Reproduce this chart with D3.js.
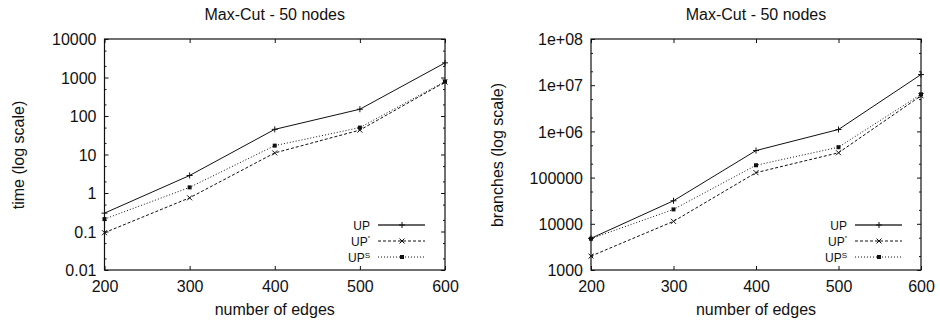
<!DOCTYPE html>
<html><head><meta charset="utf-8">
<script src="https://cdn.jsdelivr.net/npm/d3@7"></script>
<style>body{margin:0;background:#fff}svg{display:block}text{font-family:"Liberation Sans",Arial,sans-serif;fill:#111}</style>
</head><body>
<script>
const edges = [200, 300, 400, 500, 600];
const seriesNames = ["UP", "UP*", "UPS"];
const timeUP  = [0.30, 2.85, 45, 150, 2400];
const timeUPstar = [0.093, 0.75, 11, 43, 760];
const timeUPs = [0.21, 1.4, 17, 50, 790];
const brUP  = [4850, 31500, 385000, 1.1e6, 1.7e7];
const brUPstar = [2000, 11300, 128000, 345000, 5.9e6];
const brUPs = [4750, 20500, 185000, 455000, 6.35e6];
const timeTicks = [0.01, 0.1, 1, 10, 100, 1000, 10000];
const timeTickLabels = ["0.01", "0.1", "1", "10", "100", "1000", "10000"];
const brTicks = [1e3, 1e4, 1e5, 1e6, 1e7, 1e8];
const brTickLabels = ["1000", "10000", "100000", "1e+06", "1e+07", "1e+08"];
const xTicks = [200, 300, 400, 500, 600];

const W = 940, H = 327;
const svg = d3.select("body").append("svg").attr("width", W).attr("height", H);

const styles = [
  {dash: null, marker: "plus"},
  {dash: "3,2", marker: "cross"},
  {dash: "1,2", marker: "square"}
];

function marker(g, type, x, y) {
  if (type === "plus") {
    g.append("path").attr("d", `M${x-3},${y}H${x+3}M${x},${y-3}V${y+3}`).attr("stroke", "#111").attr("stroke-width", 1);
  } else if (type === "cross") {
    g.append("path").attr("d", `M${x-2.5},${y-2.5}L${x+2.5},${y+2.5}M${x-2.5},${y+2.5}L${x+2.5},${y-2.5}`).attr("stroke", "#111").attr("stroke-width", 1);
  } else {
    g.append("rect").attr("x", x-2).attr("y", y-2).attr("width", 4).attr("height", 4).attr("fill", "#111");
  }
}

function panel(opt) {
  const g = svg.append("g");
  const x = d3.scaleLinear().domain([200, 600]).range([opt.x0, opt.x1]);
  const y = d3.scaleLog().domain(opt.ydom).range([270, 39]);

  const minors = [];
  for (let e = Math.log10(opt.ydom[0]); e < Math.log10(opt.ydom[1]); e++) {
    [2, 5].forEach(m => minors.push(m * Math.pow(10, e)));
  }
  const yl = d3.axisLeft(y).tickValues(opt.ticks).tickFormat((d, i) => opt.labels[i]).tickSize(-4).tickPadding(8);
  const ga = g.append("g").attr("transform", `translate(${opt.x0},0)`).call(yl);
  ga.select(".domain").remove();
  ga.selectAll("text").attr("font-size", 16).attr("x", -8).attr("dy", "0.35em");
  ga.selectAll("line").attr("stroke", "#111");
  const gr = g.append("g").attr("transform", `translate(${opt.x1},0)`).call(d3.axisRight(y).tickValues(opt.ticks).tickSize(-4).tickFormat(""));
  gr.select(".domain").remove(); gr.selectAll("line").attr("stroke", "#111");
  const gm = g.append("g").attr("transform", `translate(${opt.x0},0)`).call(d3.axisLeft(y).tickValues(minors).tickSize(-2).tickFormat(""));
  gm.select(".domain").remove(); gm.selectAll("line").attr("stroke", "#111");
  const gm2 = g.append("g").attr("transform", `translate(${opt.x1},0)`).call(d3.axisRight(y).tickValues(minors).tickSize(-2).tickFormat(""));
  gm2.select(".domain").remove(); gm2.selectAll("line").attr("stroke", "#111");

  const gx = g.append("g").attr("transform", `translate(0,270)`).call(d3.axisBottom(x).tickValues(xTicks).tickFormat(d3.format("d")).tickSize(-4).tickPadding(10));
  gx.select(".domain").remove();
  gx.selectAll("text").attr("font-size", 16).attr("y", 22).attr("dy", 0);
  gx.selectAll("line").attr("stroke", "#111");
  const gt = g.append("g").attr("transform", `translate(0,39)`).call(d3.axisTop(x).tickValues(xTicks).tickFormat("").tickSize(-4));
  gt.select(".domain").remove(); gt.selectAll("line").attr("stroke", "#111");

  g.append("rect").attr("x", opt.x0).attr("y", 39).attr("width", opt.x1 - opt.x0).attr("height", 231)
    .attr("fill", "none").attr("stroke", "#111").attr("stroke-width", 1.2);

  g.append("text").attr("x", (opt.x0 + opt.x1) / 2).attr("y", 20).attr("text-anchor", "middle").attr("font-size", 16).text(opt.title);
  g.append("text").attr("x", (opt.x0 + opt.x1) / 2).attr("y", 315).attr("text-anchor", "middle").attr("font-size", 16).text("number of edges");
  g.append("text").attr("transform", `translate(${opt.ylx},155) rotate(-90)`).attr("text-anchor", "middle").attr("font-size", 16).text(opt.ylabel);

  const line = d3.line().x((d, i) => x(edges[i])).y(d => y(d));
  opt.series.forEach((s, k) => {
    g.append("path").attr("d", line(s)).attr("fill", "none").attr("stroke", "#111").attr("stroke-width", 1)
      .attr("stroke-dasharray", styles[k].dash);
    s.forEach((v, i) => marker(g, styles[k].marker, x(edges[i]), y(v)));
  });

  const rows = [225, 241, 257];
  rows.forEach((ry, k) => {
    const t = g.append("text").attr("x", opt.lx).attr("y", ry + 4.5).attr("text-anchor", "end").attr("font-size", 12);
    t.append("tspan").text("UP");
    if (k === 1) t.append("tspan").attr("font-size", 6).attr("dy", -6).text("*");
    if (k === 2) t.append("tspan").attr("font-size", 8).attr("dy", -4).text("S");
    g.append("line").attr("x1", opt.lx + 8).attr("x2", opt.lx + 55).attr("y1", ry).attr("y2", ry)
      .attr("stroke", k === 0 ? "#666" : "#111").attr("stroke-width", k === 0 ? 2 : 1).attr("stroke-dasharray", styles[k].dash);
    marker(g, styles[k].marker, opt.lx + 32, ry);
  });
}

panel({x0: 104.5, x1: 445, ydom: [0.01, 10000], ticks: timeTicks, labels: timeTickLabels,
  title: "Max-Cut - 50 nodes", ylabel: "time (log scale)", ylx: 24, lx: 370,
  series: [timeUP, timeUPstar, timeUPs]});
panel({x0: 591, x1: 921, ydom: [1e3, 1e8], ticks: brTicks, labels: brTickLabels,
  title: "Max-Cut - 50 nodes", ylabel: "branches (log scale)", ylx: 503, lx: 847,
  series: [brUP, brUPstar, brUPs]});
</script>
</body></html>
